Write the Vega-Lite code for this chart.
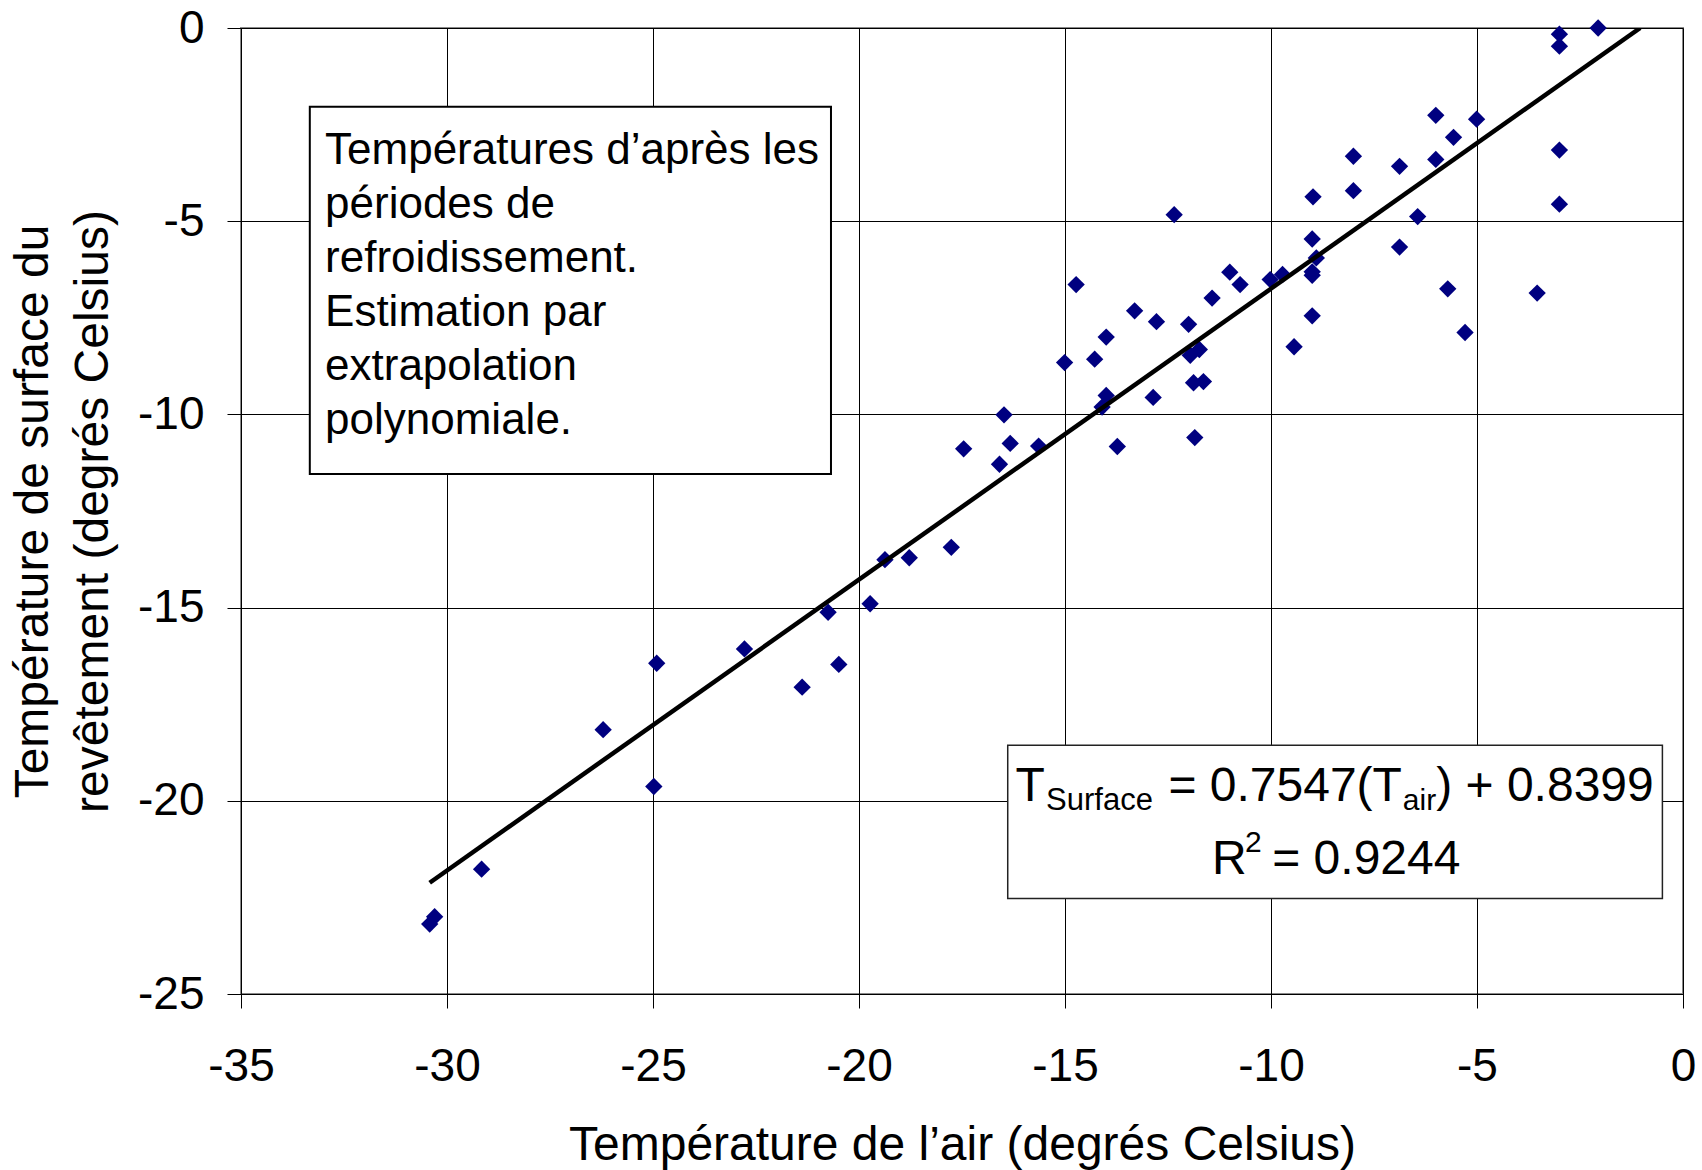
{
  "$schema": "https://vega.github.io/schema/vega-lite/v6.json",
  "width": 1442,
  "height": 966,
  "autosize": {"type": "none"},
  "padding": {"left": 241, "top": 28, "right": 19, "bottom": 176},
  "background": "white",
  "config": {
    "font": "Liberation Sans",
    "view": {"stroke": "#888888", "strokeWidth": 2},
    "axis": {
      "labelFont": "Liberation Sans",
      "titleFont": "Liberation Sans",
      "labelColor": "black",
      "titleColor": "black",
      "titleFontWeight": "normal",
      "domainColor": "black",
      "domainWidth": 1,
      "tickColor": "black",
      "tickSize": 14,
      "gridColor": "black",
      "gridWidth": 1,
      "gridOpacity": 1,
      "labelOverlap": false,
      "labelBound": false,
      "labelFlush": false
    }
  },
  "layer": [
    {
      "data": {"values": [
        {"air": -30.42, "surface": -23.19}, {"air": -30.30, "surface": -23.00},
        {"air": -29.16, "surface": -21.77}, {"air": -26.21, "surface": -18.16},
        {"air": -24.91, "surface": -16.44}, {"air": -24.98, "surface": -19.63},
        {"air": -22.78, "surface": -16.07}, {"air": -21.38, "surface": -17.06},
        {"air": -20.75, "surface": -15.12}, {"air": -20.49, "surface": -16.47},
        {"air": -19.73, "surface": -14.90}, {"air": -19.37, "surface": -13.76},
        {"air": -18.78, "surface": -13.71}, {"air": -17.76, "surface": -13.44},
        {"air": -17.46, "surface": -10.89}, {"air": -16.59, "surface": -11.29},
        {"air": -16.48, "surface": -10.01}, {"air": -16.33, "surface": -10.75},
        {"air": -15.64, "surface": -10.82}, {"air": -15.01, "surface": -8.66},
        {"air": -14.73, "surface": -6.64}, {"air": -14.28, "surface": -8.57},
        {"air": -14.00, "surface": -8.00}, {"air": -14.00, "surface": -9.51},
        {"air": -14.10, "surface": -9.81}, {"air": -13.73, "surface": -10.83},
        {"air": -13.31, "surface": -7.32}, {"air": -12.86, "surface": -9.56},
        {"air": -12.78, "surface": -7.60}, {"air": -12.35, "surface": -4.83},
        {"air": -12.00, "surface": -7.67}, {"air": -11.96, "surface": -8.47},
        {"air": -11.74, "surface": -8.32}, {"air": -11.88, "surface": -9.18},
        {"air": -11.64, "surface": -9.15}, {"air": -11.85, "surface": -10.60},
        {"air": -11.43, "surface": -6.99}, {"air": -11.00, "surface": -6.32},
        {"air": -10.75, "surface": -6.64}, {"air": -10.02, "surface": -6.51},
        {"air": -9.72, "surface": -6.38}, {"air": -9.44, "surface": -8.25},
        {"air": -9.00, "surface": -5.46}, {"air": -8.90, "surface": -5.95},
        {"air": -9.00, "surface": -6.31}, {"air": -9.00, "surface": -6.40},
        {"air": -9.00, "surface": -7.45}, {"air": -8.98, "surface": -4.37},
        {"air": -8.00, "surface": -3.32}, {"air": -8.00, "surface": -4.21},
        {"air": -6.88, "surface": -3.58}, {"air": -6.00, "surface": -3.40},
        {"air": -6.00, "surface": -2.26}, {"air": -5.57, "surface": -2.83},
        {"air": -5.01, "surface": -2.36}, {"air": -6.44, "surface": -4.88},
        {"air": -6.88, "surface": -5.67}, {"air": -5.71, "surface": -6.75},
        {"air": -5.29, "surface": -7.88}, {"air": -3.54, "surface": -6.86},
        {"air": -3.00, "surface": -3.16}, {"air": -3.00, "surface": -4.56},
        {"air": -3.00, "surface": -0.16}, {"air": -3.00, "surface": -0.47},
        {"air": -2.06, "surface": 0.00}
      ]},
      "mark": {"type": "point", "shape": "diamond", "filled": true, "color": "#000080", "size": 300, "opacity": 1, "strokeWidth": 0},
      "encoding": {
        "x": {
          "field": "air", "type": "quantitative",
          "title": "Température de l’air (degrés Celsius)",
          "scale": {"domain": [-35, 0], "nice": false, "zero": false},
          "axis": {
            "values": [-35, -30, -25, -20, -15, -10, -5, 0],
            "labelExpr": "'' + datum.value",
            "labelFontSize": 46,
            "labelPadding": 36,
            "titleFontSize": 48,
            "titleBaseline": "alphabetic",
            "titleAlign": "center",
            "titleX": 721,
            "titleY": 165
          }
        },
        "y": {
          "field": "surface", "type": "quantitative",
          "title": ["Température de surface du", "revêtement (degrés Celsius)"],
          "scale": {"domain": [-25, 0], "nice": false, "zero": false},
          "axis": {
            "values": [-25, -20, -15, -10, -5, 0],
            "labelExpr": "'' + datum.value",
            "labelFontSize": 46,
            "labelPadding": 23,
            "titleFontSize": 48,
            "titleLineHeight": 60,
            "titleBaseline": "alphabetic",
            "titleAlign": "center",
            "titleAngle": -90,
            "titleX": -194,
            "titleY": 483
          }
        }
      }
    },
    {
      "data": {"values": [
        {"air": -30.42, "surface": -22.12},
        {"air": -1.04, "surface": 0.0}
      ]},
      "mark": {"type": "line", "color": "black", "strokeWidth": 4.5, "clip": true},
      "encoding": {
        "x": {"field": "air", "type": "quantitative", "title": "Température de l’air (degrés Celsius)"},
        "y": {"field": "surface", "type": "quantitative", "title": ["Température de surface du", "revêtement (degrés Celsius)"]}
      }
    },
    {
      "data": {"values": [{}]},
      "mark": {"type": "rect", "fill": "white", "stroke": "black", "strokeWidth": 2},
      "encoding": {
        "x": {"datum": -33.33, "type": "quantitative"},
        "x2": {"datum": -20.68},
        "y": {"datum": -2.04, "type": "quantitative"},
        "y2": {"datum": -11.54}
      }
    },
    {
      "data": {"values": [{}]},
      "mark": {"type": "text", "align": "left", "baseline": "alphabetic", "fontSize": 44, "lineHeight": 54, "color": "black",
        "text": ["Températures d’après les", "périodes de", "refroidissement.", "Estimation par", "extrapolation", "polynomiale."]},
      "encoding": {
        "x": {"datum": -32.96, "type": "quantitative"},
        "y": {"datum": -3.53, "type": "quantitative"}
      }
    },
    {
      "data": {"values": [{}]},
      "mark": {"type": "rect", "fill": "white", "stroke": "#222222", "strokeWidth": 1.5},
      "encoding": {
        "x": {"datum": -16.39, "type": "quantitative"},
        "x2": {"datum": -0.50},
        "y": {"datum": -18.56, "type": "quantitative"},
        "y2": {"datum": -22.53}
      }
    },
    {
      "data": {"values": [{}]},
      "mark": {"type": "text", "align": "left", "baseline": "alphabetic", "fontSize": 48, "color": "black", "text": "T"},
      "encoding": {
        "x": {"datum": -16.20, "type": "quantitative"},
        "y": {"datum": -20.0, "type": "quantitative"}
      }
    },
    {
      "data": {"values": [{}]},
      "mark": {"type": "text", "align": "left", "baseline": "alphabetic", "fontSize": 31, "color": "black", "text": "Surface"},
      "encoding": {
        "x": {"datum": -15.46, "type": "quantitative"},
        "y": {"datum": -20.23, "type": "quantitative"}
      }
    },
    {
      "data": {"values": [{}]},
      "mark": {"type": "text", "align": "left", "baseline": "alphabetic", "fontSize": 48, "color": "black", "text": "= 0.7547(T"},
      "encoding": {
        "x": {"datum": -12.49, "type": "quantitative"},
        "y": {"datum": -20.0, "type": "quantitative"}
      }
    },
    {
      "data": {"values": [{}]},
      "mark": {"type": "text", "align": "left", "baseline": "alphabetic", "fontSize": 30, "color": "black", "text": "air"},
      "encoding": {
        "x": {"datum": -6.80, "type": "quantitative"},
        "y": {"datum": -20.23, "type": "quantitative"}
      }
    },
    {
      "data": {"values": [{}]},
      "mark": {"type": "text", "align": "left", "baseline": "alphabetic", "fontSize": 48, "color": "black", "text": ") + 0.8399"},
      "encoding": {
        "x": {"datum": -5.99, "type": "quantitative"},
        "y": {"datum": -20.0, "type": "quantitative"}
      }
    },
    {
      "data": {"values": [{}]},
      "mark": {"type": "text", "align": "left", "baseline": "alphabetic", "fontSize": 48, "color": "black", "text": "R"},
      "encoding": {
        "x": {"datum": -11.43, "type": "quantitative"},
        "y": {"datum": -21.90, "type": "quantitative"}
      }
    },
    {
      "data": {"values": [{}]},
      "mark": {"type": "text", "align": "left", "baseline": "alphabetic", "fontSize": 30, "color": "black", "text": "2"},
      "encoding": {
        "x": {"datum": -10.63, "type": "quantitative"},
        "y": {"datum": -21.33, "type": "quantitative"}
      }
    },
    {
      "data": {"values": [{}]},
      "mark": {"type": "text", "align": "left", "baseline": "alphabetic", "fontSize": 48, "color": "black", "text": "= 0.9244"},
      "encoding": {
        "x": {"datum": -9.97, "type": "quantitative"},
        "y": {"datum": -21.90, "type": "quantitative"}
      }
    }
  ]
}
